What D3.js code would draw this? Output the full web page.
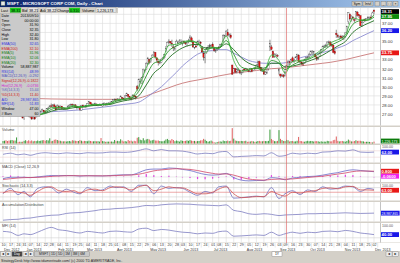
<!DOCTYPE html>
<html><head><meta charset="utf-8">
<script src="https://cdn.jsdelivr.net/npm/d3@7/dist/d3.min.js"></script>
<style>
html,body{margin:0;padding:0;background:#d4d0c8;overflow:hidden;width:400px;height:263px}
svg{display:block}
text{font-family:"Liberation Sans","DejaVu Sans",Arial,sans-serif}
</style></head><body>
<svg id="chart" width="400" height="263"></svg>
<script>
// ---------------- DATA ----------------
const opens=[26.78,27.00,27.35,27.20,26.95, 26.85,27.25,27.60,27.35,27.35, 27.20,27.05,26.90,26.70, 26.60,27.25,27.60,27.25,
26.75,26.70,26.70,26.65,26.70, 26.85,27.00,27.15,27.35,27.40, 27.25,27.20,27.55,27.60, 27.90,27.85,28.00,27.80,27.65,
27.85,27.60,27.85,27.60,27.65, 27.55,27.55,27.85,27.95,28.05, 28.00,28.00,27.80,27.75, 27.75,27.40,27.95,27.85,27.75,
27.90,28.15,28.30,28.10,28.00, 28.00,28.10,27.95,28.00,28.05, 27.85,28.10,28.10,28.05,28.20, 28.20,28.15,28.35,28.60,
28.60,28.55,28.55,28.55,28.80, 28.70,28.60,29.00,29.15,28.90, 28.75,28.70,29.05,28.95,30.00, 29.90,30.60,30.40,31.10,31.75,
31.90,32.50,33.00,32.80,33.25, 33.65,33.80,33.20,32.85,32.60, 32.70,33.10,33.20,33.90,34.50, 34.85,35.00,34.80,34.40,34.15,
34.60,34.90,35.05,34.85, 34.85,35.00,34.90,34.80,35.00, 35.10,35.40,34.95,34.30,34.50, 34.60,34.95,34.90,34.30,33.70,
33.20,33.80,34.30,34.40,34.50, 34.70,34.20,34.00,34.15, 34.35,34.40,34.70,35.05,35.60, 35.65,36.00,35.65,35.70,32.40,
31.60,32.00,31.65,31.90,31.80, 31.50,31.60,31.95,31.90,31.95, 31.80,31.75,32.00,31.80,32.05, 32.05,32.40,32.80,32.10,31.80,
31.75,31.40,31.60,32.00,34.40, 34.40,33.90,33.40,33.50,33.45, 31.75,31.40,31.25,31.30, 31.20,31.90,32.10,32.75,32.70,
33.20,32.80,32.90,33.30,33.50, 32.80,32.70,32.55,32.60,33.00, 33.10,33.30,33.60,33.80,33.85, 33.60,33.30,33.15,33.35,33.85,
34.00,34.40,34.35,34.50,34.85, 34.95,34.65,34.60,33.90,35.90, 35.65,35.50,35.60,35.50,35.35, 35.55,36.00,37.20,38.00,37.60,
37.70,37.40,37.40,38.25,37.95, 37.85,36.80,37.15,37.45,37.30, 37.60,37.60,37.70,37.80, 38.45];
const highs=[27.10,27.45,27.55,27.25,27.05, 27.20,27.75,27.65,27.75,27.50, 27.25,27.20,27.05,26.85, 26.85,27.75,27.65,27.35,
26.90,26.80,26.80,26.70,26.95, 27.10,27.25,27.40,27.60,27.45, 27.40,27.65,27.80,27.95, 28.15,28.10,28.15,27.95,28.05,
28.00,27.95,27.90,27.75,27.70, 27.70,27.95,28.10,28.15,28.15, 28.10,28.10,27.90,27.80, 27.90,28.00,28.05,27.95,28.00,
28.20,28.45,28.35,28.20,28.15, 28.25,28.15,28.10,28.15,28.15, 28.20,28.30,28.20,28.25,28.30, 28.35,28.40,28.65,28.70,
28.70,28.75,28.70,29.05,28.85, 28.80,29.10,29.35,29.20,28.95, 28.85,29.15,29.15,29.00,30.20, 30.90,30.95,31.10,32.00,31.95,
32.70,33.30,33.10,33.20,33.60, 33.95,33.85,33.25,32.90,32.90, 33.15,33.30,33.65,34.50,35.00, 35.25,35.05,35.20,34.70,34.45,
35.20,35.10,35.25,35.25, 35.10,35.15,35.00,35.10,35.30, 35.70,35.55,35.10,34.70,34.70, 35.10,35.20,35.05,34.50,33.90,
33.80,34.40,34.60,34.75,34.70, 34.90,34.40,34.20,34.25, 34.50,34.75,34.85,35.80,35.75, 36.25,36.40,35.90,35.90,32.45,
32.10,32.05,32.05,32.10,31.90, 31.65,31.90,32.05,32.10,32.00, 31.90,32.10,32.05,32.10,32.20, 32.50,32.90,32.90,32.15,31.95,
31.85,31.75,31.95,32.60,35.20, 34.60,34.00,33.70,33.70,33.60, 32.05,31.45,31.45,31.40, 31.80,32.40,32.95,32.90,33.10,
33.35,33.00,33.35,33.65,33.60, 32.95,32.80,32.70,33.10,33.30, 33.40,33.75,34.00,34.05,33.95, 33.70,33.35,33.30,33.80,34.15,
34.55,34.65,34.75,35.00,35.10, 35.05,34.85,34.65,34.15,36.30, 35.85,35.65,35.75,35.70,35.70, 36.00,36.75,38.25,38.10,37.90,
37.80,37.55,38.35,38.35,38.00, 37.90,37.20,37.50,37.55,37.60, 37.80,37.75,37.90,38.30, 38.55];
const lows=[26.70,26.95,27.10,26.85,26.70, 26.80,27.20,27.25,27.30,27.10, 27.00,26.80,26.70,26.55, 26.35,27.15,27.20,26.65,
26.55,26.35,26.40,26.35,26.60, 26.75,26.90,27.05,27.30,27.15, 27.10,27.15,27.45,27.55, 27.75,27.70,27.70,27.40,27.50,
27.55,27.55,27.50,27.45,27.45, 27.45,27.50,27.75,27.85,27.90, 27.80,27.80,27.50,27.60, 27.35,27.35,27.70,27.70,27.65,
27.85,28.10,28.05,27.90,27.90, 27.95,27.90,27.85,27.95,27.90, 27.80,28.00,27.95,27.95,28.10, 28.05,28.10,28.30,28.45,
28.40,28.45,28.40,28.50,28.55, 28.50,28.55,28.95,28.70,28.60, 28.50,28.70,28.80,28.60,29.50, 29.75,30.40,30.35,31.00,31.55,
31.85,32.45,32.50,32.65,33.20, 33.40,33.10,32.70,32.35,32.50, 32.65,32.95,33.10,33.85,34.40, 34.75,34.70,34.40,33.95,34.00,
34.55,34.70,34.80,34.75, 34.55,34.75,34.60,34.45,34.80, 35.00,34.90,34.30,34.15,34.30, 34.55,34.70,34.55,33.70,32.90,
32.60,33.65,34.15,34.25,34.35, 34.30,33.85,33.75,33.95, 34.10,34.30,34.50,35.00,35.35, 35.55,35.55,35.45,35.30,31.30,
31.50,31.55,31.50,31.70,31.40, 31.30,31.50,31.75,31.75,31.70, 31.60,31.60,31.60,31.75,31.85, 31.95,32.30,32.00,31.70,31.65,
31.35,31.30,31.40,31.80,33.95, 34.05,33.20,33.20,33.35,33.25, 31.35,31.00,31.10,31.00, 31.15,31.80,32.05,32.40,32.65,
32.70,32.60,32.85,33.20,32.75, 32.55,32.45,32.30,32.55,32.80, 32.95,33.20,33.50,33.55,33.60, 33.25,32.85,32.95,33.30,33.70,
33.95,34.30,34.30,34.40,34.75, 34.45,34.40,33.70,33.55,35.40, 35.40,35.20,35.25,35.25,35.15, 35.40,35.85,36.90,37.35,37.20,
37.40,37.10,37.30,37.75,37.60, 36.70,36.60,37.05,37.15,37.25, 37.40,37.40,37.50,37.80, 38.05];
const closes=[27.00,27.30,27.20,27.00,26.80, 27.10,27.65,27.30,27.70,27.45, 27.05,26.85,26.95,26.55, 26.70,27.60,27.25,26.75,
26.70,26.45,26.75,26.45,26.85, 27.00,27.15,27.30,27.50,27.25, 27.15,27.60,27.65,27.90, 27.85,28.00,27.80,27.45,27.90,
27.65,27.85,27.60,27.60,27.55, 27.55,27.85,27.95,28.05,28.00, 28.00,27.85,27.75,27.75, 27.50,27.95,27.80,27.80,27.95,
28.15,28.35,28.10,28.00,28.00, 28.15,27.95,28.00,28.05,28.00, 28.10,28.15,28.00,28.20,28.20, 28.15,28.35,28.60,28.60,
28.55,28.55,28.55,28.95,28.70, 28.60,29.00,29.30,28.95,28.80, 28.70,29.10,28.95,28.85,29.75, 30.80,30.60,31.00,31.95,31.80,
32.60,33.10,32.70,33.15,33.50, 33.75,33.30,32.95,32.65,32.70, 33.05,33.20,33.55,34.25,34.90, 35.05,34.85,34.75,34.30,34.25,
35.00,34.90,35.05,34.90, 35.00,34.95,34.75,34.95,35.05, 35.50,35.00,34.40,34.65,34.40, 35.00,34.95,34.80,33.85,33.25,
33.70,34.30,34.35,34.60,34.55, 34.35,34.00,34.00,34.20, 34.30,34.70,34.70,35.70,35.65, 36.15,35.70,35.75,35.45,31.40,
32.00,31.60,31.95,31.90,31.60, 31.55,31.85,31.85,32.00,31.90, 31.70,32.05,31.70,32.05,32.00, 32.35,32.75,32.05,31.80,31.80,
31.40,31.60,31.60,32.40,34.75, 34.15,33.25,33.55,33.50,33.40, 31.90,31.20,31.25,31.15, 31.65,32.35,32.75,32.70,33.00,
32.80,32.90,33.30,33.60,32.80, 32.75,32.50,32.50,33.00,33.25, 33.30,33.60,33.90,33.85,33.90, 33.30,33.05,33.15,33.75,34.10,
34.45,34.50,34.60,34.95,34.95, 34.60,34.60,33.80,33.70,35.75, 35.55,35.50,35.45,35.40,35.55, 35.95,36.65,38.20,37.50,37.80,
37.60,37.35,38.30,37.90,37.85, 36.75,37.10,37.35,37.30,37.55, 37.65,37.65,37.60,38.15, 38.31];
// volume, millions of shares
const volumes=[40,45,52,41,48, 52,57,48,48,98, 21,29,28,29, 43,53,38,52, 37,49,36,42,38, 48,40,45,52,54, 44,55,49,84,
36,42,60,65,56, 47,44,36,35,37, 32,37,41,34,53, 47,44,40,41, 54,45,35,42,39, 36,46,41,35,35, 38,35,38,31,88,
39,35,27,30,30, 30,32,28,56, 36,43,37,68,47, 33,38,32,56,42, 46,33,44,37,93, 103,61,53,85,50, 66,74,65,46,53,
60,48,47,48,40, 36,36,45,64,74, 55,48,72,56,37, 48,42,31,51, 43,40,43,50,43, 54,47,40,42,34, 39,41,50,52,75,
61,41,29,37,47, 34,21,14,25, 30,34,30,48,39, 39,47,39,44,248, 79,48,43,38,38, 41,38,39,44,28, 30,33,41,35,27,
30,40,42,35,36, 41,39,37,42,225, 73,53,38,36,42, 216,75,54,41, 39,59,52,33,39, 40,33,34,44,106, 40,38,31,29,37,
43,36,41,39,32, 37,38,35,28,35, 29,31,29,43,38, 34,35,54,60,113, 43,34,38,41,35, 29,41,63,48,34, 33,40,52,42,44,
44,37,34,26,28, 28,26,20,16, 30];

// weekly points (bar index of each week's first session)
const weekIdx=[0,5,10,14,18,23,28,32,37,42,47,51,56,61,66,71,75,80,85,90,95,100,105,110,115,119,124,129,134,139,143,148,153,158,163,168,173,178,183,187,192,197,202,207,212,217,222,227,232,237,242,246];
const dayLabels=["10","17","24","31","07","14","22","28","04","11","19","25","04","11","18","25","01","08","15","22","29","06","13","20","28","03","10","17","24","01","08","15","22","29","05","12","19","26","03","09","16","23","30","07","14","21","28","04","11","18","25","02"];
const monthLabels=["Dec 2012","Jan 2013","Feb 2013","Mar 2013","Apr 2013","May 2013","Jun 2013","Jul 2013","Aug 2013","Sep 2013","Oct 2013","Nov 2013","Dec 2013"];
const monthIdx=[0,15,36,55,75,97,119,139,161,183,203,226,246];
const priceTicks=[27,28,29,30,31,32,33,34,35,36,37];

const ema5=[27.0,27.1,27.3,26.9,27.0,26.8,27.3,27.7,27.75,27.6,27.95,27.7,27.95,28.05,28.05,28.15,28.55,28.65,28.85,30.0,32.1,33.3,32.9,34.6,34.7,34.95,35.1,34.8,33.8,34.4,34.25,35.6,32.9,31.75,31.85,32.15,31.7,33.5,32.9,31.5,32.8,32.9,33.1,33.6,34.2,34.85,35.2,35.7,37.6,37.4,37.4,37.95];
const ema10=[27.0,27.0,27.2,27.05,27.05,26.9,27.15,27.5,27.7,27.65,27.85,27.8,27.9,28.0,28.05,28.15,28.4,28.6,28.75,29.5,31.2,32.6,32.9,34.0,34.5,34.8,35.0,34.85,34.1,34.3,34.25,35.1,33.6,32.2,31.95,32.05,31.85,32.9,32.6,31.9,32.4,32.8,33.0,33.4,33.9,34.55,34.95,35.5,36.9,37.3,37.35,37.7];
const ema20=[27.1,27.05,27.15,27.1,27.05,26.95,27.05,27.3,27.5,27.55,27.7,27.75,27.85,27.95,28.0,28.05,28.25,28.45,28.6,29.0,30.2,31.5,32.2,33.2,33.9,34.3,34.6,34.7,34.3,34.3,34.3,34.75,34.1,33.2,32.6,32.3,32.05,32.6,32.6,32.2,32.3,32.5,32.8,33.1,33.5,34.0,34.5,35.0,36.0,36.6,37.0,37.3];
const ema50=[27.6,27.5,27.45,27.4,27.3,27.25,27.2,27.25,27.3,27.35,27.4,27.45,27.55,27.65,27.75,27.85,27.95,28.05,28.15,28.3,28.8,29.4,30.0,30.8,31.6,32.3,33.0,33.6,33.9,34.0,34.1,34.1,33.7,33.3,32.9,32.7,32.6,32.6,32.6,32.65,32.9,33.2,33.4,33.6,33.8,34.0,34.3,34.6,35.1,35.5,35.9,36.2];
const ema200=[28.80,28.78,28.76,28.74,28.72,28.70,28.68,28.66,28.65,28.64,28.63,28.62,28.62,28.62,28.62,28.62,28.63,28.64,28.66,28.75,29.0,29.3,29.6,29.9,30.2,30.4,30.6,30.75,30.9,31.05,31.2,31.35,31.5,31.6,31.7,31.8,31.9,32.0,32.05,32.1,32.2,32.3,32.4,32.5,32.6,32.7,32.85,33.0,33.2,33.4,33.6,33.75];
const rsi=[48,55,45,50,42,53,58,55,52,57,54,52,58,56,57,62,62,60,63,72,82,70,78,70,70,68,60,50,55,52,62,66,32,35,37,40,38,58,36,40,55,50,55,52,62,64,70,68,76,62,60,62];
const macd=[-0.25,-0.05,-0.05,-0.05,-0.1,0.0,0.12,0.2,0.18,0.2,0.18,0.12,0.18,0.15,0.14,0.2,0.25,0.3,0.3,0.6,1.0,1.1,1.1,1.25,1.2,1.05,0.9,0.6,0.35,0.25,0.3,0.5,-0.1,-0.45,-0.55,-0.5,-0.5,-0.1,-0.2,-0.4,-0.15,-0.05,0.05,0.1,0.25,0.45,0.6,0.85,1.0,0.9,0.8,0.74];
const signal=[-0.35,-0.25,-0.15,-0.1,-0.08,-0.06,0.0,0.08,0.13,0.17,0.18,0.16,0.16,0.16,0.15,0.16,0.2,0.24,0.27,0.38,0.6,0.85,0.98,1.08,1.15,1.12,1.05,0.9,0.68,0.5,0.4,0.42,0.25,-0.05,-0.3,-0.4,-0.45,-0.35,-0.3,-0.32,-0.28,-0.18,-0.08,0.02,0.1,0.25,0.4,0.55,0.75,0.83,0.82,0.80];
const hist=[0.10,0.20,0.10,0.05,-0.02,0.06,0.12,0.12,0.05,0.03,0.0,-0.04,0.02,-0.01,-0.01,0.04,0.05,0.06,0.03,0.22,0.40,0.25,0.12,0.17,0.05,-0.07,-0.15,-0.30,-0.33,-0.25,-0.10,0.08,-0.35,-0.40,-0.25,-0.10,-0.05,0.25,0.10,-0.08,0.13,0.13,0.13,0.08,0.15,0.20,0.20,0.30,0.25,0.07,-0.02,-0.06];
const stochK=[40,75,35,55,20,75,85,80,45,70,50,40,80,60,65,90,80,85,55,95,95,40,90,75,80,75,50,30,55,45,85,90,12,15,20,25,20,80,10,40,60,35,65,55,85,70,75,90,85,55,75,68];
const stochD=[45,60,50,45,30,55,80,85,60,55,60,45,65,70,60,80,85,80,65,85,95,60,70,85,78,78,60,40,40,50,70,85,40,15,18,22,22,55,35,25,50,45,55,60,75,78,72,85,88,65,65,63];
const accDist=[-440,-420,-410,-380,-370,-330,-300,-280,-270,-220,-200,-190,-160,-130,-90,-80,-60,-50,-30,0,40,30,60,80,90,85,80,60,50,40,30,60,-120,-160,-230,-250,-230,-250,-290,-270,-260,-250,-230,-230,-220,-220,-210,-200,-210,-220,-215,-210];
const mfi=[60,55,35,45,40,55,75,85,70,65,55,50,60,55,50,60,62,58,55,75,80,65,72,68,60,55,52,45,50,48,58,62,30,32,35,38,35,55,35,45,55,48,55,52,60,62,58,66,60,50,45,40];

const infoLabels=["Date","Time","Open","Close","High","Low","EMA(50)","EMA(200)","EMA(5)","EMA(10)","EMA(20)","Volume","RSI(14)","MACD(12,26,9)","Signal(12,26,9)","Hist(12,26,9)","%K(14,3,3)","%D(14,3,3)","A/D","MFI(14)","Window","# Bars"];
const infoValues=["2013/09/10","00:00:00","31.90","32.35","32.40","31.80","32.65","32.10","31.96","32.06","32.30","58,887,987","48.99","-0.292","-0.1822","-0.0736","15.44","11.40","28,987,865","51.83","47.00","60"];
const quoteLabels=["Last","Bid","Ask","Change","Volume"];
const quoteValues=["38.31","38.21","38.22","0.310","1,226,173"];
const crossIdx=188;

// ---------------- DRAW ----------------
const svg=d3.select("#chart");
const FONT='"Liberation Sans","DejaVu Sans",Arial,sans-serif';
svg.append("rect").attr("width",400).attr("height",263).attr("fill","#d4d0c8");

const x=d3.scaleLinear().domain([0,closes.length-1]).range([3,374]);
const P={main:[8,125.5],vol:[127,143.5],rsi:[145,162.5],macd:[164,182],stoch:[183.5,200.5],ad:[202,221.5],mfi:[223,242.5]};

Object.values(P).forEach(([t,b])=>{
  svg.append("rect").attr("x",0).attr("y",t).attr("width",400).attr("height",b-t).attr("fill","#fff");
  svg.append("g").selectAll("line").data(weekIdx).join("line")
    .attr("x1",d=>x(d)).attr("x2",d=>x(d)).attr("y1",t).attr("y2",b)
    .attr("stroke","#dcdcdc").attr("stroke-width",0.6);
  svg.append("line").attr("x1",380.5).attr("x2",380.5).attr("y1",t).attr("y2",b).attr("stroke","#9a9a9a").attr("stroke-width",0.6);
});

// ---- main price panel ----
const yP=d3.scaleLinear().domain([25.73,38.70]).range([P.main[1],P.main[0]]);
svg.append("g").selectAll("line").data(priceTicks.concat([38])).join("line")
  .attr("x1",0).attr("x2",380).attr("y1",d=>yP(d)).attr("y2",d=>yP(d))
  .attr("stroke","#dcdcdc").attr("stroke-width",0.6);

const lineW=(arr,ys)=>d3.line().x((d,i)=>x(weekIdx[i])).y(d=>ys(d)).curve(d3.curveMonotoneX)(arr);
svg.append("defs").append("clipPath").attr("id","mc").append("rect").attr("x",0).attr("y",P.main[0]).attr("width",380).attr("height",P.main[1]-P.main[0]);
const mg=svg.append("g").attr("clip-path","url(#mc)");
mg.append("path").attr("d",lineW(ema200,yP)).attr("fill","none").attr("stroke","#c87878").attr("stroke-width",0.9);
mg.append("path").attr("d",lineW(ema50,yP)).attr("fill","none").attr("stroke","#8c8cd0").attr("stroke-width",0.9);

const idx=d3.range(closes.length);
mg.append("g").selectAll("line").data(idx).join("line")
  .attr("x1",i=>x(i)).attr("x2",i=>x(i)).attr("y1",i=>yP(highs[i])).attr("y2",i=>yP(lows[i]))
  .attr("stroke","#222").attr("stroke-width",0.5);
mg.append("g").selectAll("rect").data(idx).join("rect")
  .attr("x",i=>x(i)-0.7).attr("width",1.4)
  .attr("y",i=>yP(Math.max(opens[i],closes[i])))
  .attr("height",i=>Math.max(0.6,Math.abs(yP(opens[i])-yP(closes[i]))))
  .attr("fill",i=>closes[i]>=opens[i]?"#ffffff":"#e41010")
  .attr("stroke",i=>closes[i]>=opens[i]?"#555":"#901010").attr("stroke-width",0.35);

mg.append("path").attr("d",lineW(ema20,yP)).attr("fill","none").attr("stroke","#1e6e1e").attr("stroke-width",0.9);
mg.append("path").attr("d",lineW(ema10,yP)).attr("fill","none").attr("stroke","#2a962a").attr("stroke-width",0.9);
mg.append("path").attr("d",lineW(ema5,yP)).attr("fill","none").attr("stroke","#36b236").attr("stroke-width",0.8);

// ---- right axis labels ----
function box(yc,txt,bg,fg,w,fs){
  svg.append("rect").attr("x",381).attr("y",yc-2.4).attr("width",w||18).attr("height",4.8).attr("fill",bg);
  svg.append("text").attr("x",381.6).attr("y",yc+1.5).attr("font-size",fs||4.2).attr("font-weight",fs?"normal":"bold")
    .attr("fill",fg).attr("font-family",FONT).text(txt);
}
const last=closes.length-1;
const bY=yP(closes[last]);
const gY=Math.max(yP(ema5[51]),bY+5);
const blY=yP(ema50[51]);
const rY=yP(ema200[51]);
const boxYs=[bY,gY,blY,rY];
const axisR=d3.axisRight(yP).tickValues(priceTicks.filter(v=>boxYs.every(b=>Math.abs(yP(v)-b)>4))).tickFormat(d=>d.toFixed(2)).tickSize(0);
const ag=svg.append("g").attr("transform","translate(382,0)").call(axisR);
ag.select(".domain").remove();
ag.selectAll("text").attr("font-size",4.2).attr("fill","#333").attr("x",0).attr("font-family",FONT);
box(bY,closes[last].toFixed(2),"#000","#fff");
box(gY,ema5[51].toFixed(2),"#0a8a0a","#fff");
box(blY,ema50[51].toFixed(2),"#1818e8","#fff");
box(rY,ema200[51].toFixed(2),"#e81818","#fff");

// ---- volume ----
const yV=d3.scaleLinear().domain([0,250]).range([P.vol[1],P.vol[0]+1]);
svg.append("g").selectAll("rect").data(idx).join("rect")
  .attr("x",i=>x(i)-0.5).attr("width",1)
  .attr("y",i=>yV(volumes[i])).attr("height",i=>P.vol[1]-yV(volumes[i]))
  .attr("fill",i=>closes[i]>=opens[i]?"#3a9a3a":"#e06060");
box(141,quoteValues[4],"#0a7a0a","#fff",18.6,3.6);

// ---- RSI ----
const yR=d3.scaleLinear().domain([0,100]).range([P.rsi[1]-0.5,P.rsi[0]+1]);
[30,70].forEach(v=>svg.append("line").attr("x1",0).attr("x2",380).attr("y1",yR(v)).attr("y2",yR(v)).attr("stroke","#e8c8c8").attr("stroke-width",0.5));
svg.append("path").attr("d",lineW(rsi,yR)).attr("fill","none").attr("stroke","#7c7cc0").attr("stroke-width",0.8);
box(yR(rsi[51]),rsi[51].toFixed(2),"#1818e8","#fff");

// ---- MACD ----
const yM=d3.scaleLinear().domain([-0.71,1.74]).range([P.macd[1],P.macd[0]+0.5]);
svg.append("line").attr("x1",0).attr("x2",380).attr("y1",yM(0)).attr("y2",yM(0)).attr("stroke","#d8d8d8").attr("stroke-width",0.5);
svg.append("g").selectAll("rect").data(hist).join("rect")
  .attr("x",(d,i)=>x(weekIdx[i])-0.6).attr("width",1.2)
  .attr("y",d=>Math.min(yM(d),yM(0))).attr("height",d=>Math.abs(yM(d)-yM(0)))
  .attr("fill","#e040e0");
svg.append("path").attr("d",lineW(macd,yM)).attr("fill","none").attr("stroke","#6a6ac8").attr("stroke-width",0.8);
svg.append("path").attr("d",lineW(signal,yM)).attr("fill","none").attr("stroke","#d04868").attr("stroke-width",0.8);
box(yM(signal[51]),signal[51].toFixed(3),"#e81818","#fff");
box(yM(signal[51])+5,hist[51].toFixed(4),"#f020f0","#fff");

// ---- Stochastic ----
const yS=d3.scaleLinear().domain([0,100]).range([P.stoch[1]-0.5,P.stoch[0]+1]);
[20,80].forEach(v=>svg.append("line").attr("x1",0).attr("x2",380).attr("y1",yS(v)).attr("y2",yS(v)).attr("stroke","#c8c8c8").attr("stroke-width",0.5));
svg.append("line").attr("x1",0).attr("x2",380).attr("y1",yS(50)).attr("y2",yS(50)).attr("stroke","#e07070").attr("stroke-width",0.6);
svg.append("path").attr("d",lineW(stochK,yS)).attr("fill","none").attr("stroke","#7070c0").attr("stroke-width",0.8);
svg.append("path").attr("d",lineW(stochD,yS)).attr("fill","none").attr("stroke","#d05050").attr("stroke-width",0.8);
box(yS(stochD[51]),stochD[51].toFixed(2),"#e81818","#fff");

// ---- Accumulation / Distribution ----
const yA=d3.scaleLinear().domain([-450,120]).range([P.ad[1]-1,P.ad[0]+1]);
svg.append("path").attr("d",lineW(accDist,yA)).attr("fill","none").attr("stroke","#7c7cc0").attr("stroke-width",0.8);
box(yA(accDist[51]),infoValues[18],"#1818e8","#fff",18.6,3.3);

// ---- MFI ----
const yF=d3.scaleLinear().domain([0,100]).range([P.mfi[1]-1.5,P.mfi[0]+2]);
svg.append("line").attr("x1",0).attr("x2",380).attr("y1",yF(20)).attr("y2",yF(20)).attr("stroke","#c8c8c8").attr("stroke-width",0.5);
svg.append("path").attr("d",lineW(mfi,yF)).attr("fill","none").attr("stroke","#7c7cc0").attr("stroke-width",0.8);
box(yF(mfi[51]),mfi[51].toFixed(2),"#1818e8","#fff");

[P.rsi[0]+3,P.stoch[0]+3,P.mfi[0]+3.5].forEach(yy=>svg.append("text").attr("x",382).attr("y",yy).attr("font-size",3.6).attr("fill","#555").attr("font-family",FONT).text("100.00"));

const titles=[["Volume",P.vol[0]],["RSI (14)",P.rsi[0]],["MACD (Close) 12,26,9",P.macd[0]],["Stochastic (14,3,3)",P.stoch[0]],["Accumulation/Distribution",P.ad[0]],["MFI (14)",P.mfi[0]]];
titles.forEach(([t,yy])=>svg.append("text").attr("x",2).attr("y",yy+3.8).attr("font-size",3.7).attr("fill","#444").attr("font-family",FONT).text(t));

// crosshair
svg.append("line").attr("x1",x(crossIdx)).attr("x2",x(crossIdx)).attr("y1",8).attr("y2",243).attr("stroke","#e07070").attr("stroke-width",0.7);

// ---- date axis ----
svg.append("rect").attr("x",0).attr("y",243).attr("width",400).attr("height",8).attr("fill","#fff");
svg.append("g").selectAll("line").data(weekIdx).join("line")
  .attr("x1",d=>x(d)+3.7).attr("x2",d=>x(d)+3.7).attr("y1",243).attr("y2",247.5).attr("stroke","#d0d0d0").attr("stroke-width",0.5);
const xa=d3.axisBottom(x).tickValues(weekIdx).tickFormat((d,i)=>dayLabels[i]).tickSize(0).tickPadding(0);
const xg=svg.append("g").attr("transform","translate(0,243.3)").call(xa);
xg.select(".domain").remove();
xg.selectAll("text").attr("font-size",3.6).attr("fill","#333").attr("font-family",FONT);
svg.append("g").selectAll("text").data(monthLabels).join("text")
  .attr("x",(d,i)=>x(monthIdx[i])+1).attr("y",250.6).attr("font-size",3.6).attr("fill","#333").attr("font-family",FONT).text(d=>d);

// ---- info panel ----
const infoColors=["#000","#000","#000","#000","#000","#000","#3030e0","#d02020","#108010","#108010","#108010","#000","#3030e0","#5050c0","#d02020","#d020d0","#6060c0","#d02020","#3030e0","#3030e0","#000","#000"];
svg.append("rect").attr("x",0).attr("y",13.2).attr("width",40).attr("height",103.5).attr("fill","#cacaca").attr("stroke","#9a9a9a").attr("stroke-width",0.5);
infoLabels.forEach((l,i)=>{
  const yy=17+i*4.65;
  svg.append("text").attr("x",1.5).attr("y",yy).attr("font-size",3.6).attr("fill",infoColors[i]).attr("font-family",FONT).text(l);
  svg.append("text").attr("x",38.5).attr("y",yy).attr("text-anchor","end").attr("font-size",3.6).attr("fill",infoColors[i]).attr("font-family",FONT).text(infoValues[i]);
});

// ---- title bar ----
const defs=svg.append("defs");
const gr=defs.append("linearGradient").attr("id","tb").attr("x1",0).attr("x2",1).attr("y1",0).attr("y2",0);
gr.append("stop").attr("offset",0).attr("stop-color","#0a246a");
gr.append("stop").attr("offset",1).attr("stop-color","#a6caf0");
svg.append("rect").attr("x",0).attr("y",0).attr("width",400).attr("height",7.3).attr("fill","url(#tb)");
svg.append("rect").attr("x",1).attr("y",1.3).attr("width",4).attr("height",4.2).attr("fill","#e8e8e8").attr("stroke","#406040").attr("stroke-width",0.4);
svg.append("text").attr("x",7).attr("y",5.4).attr("font-size",4.4).attr("font-weight","bold").attr("fill","#fff").attr("font-family",FONT).text("MSFT - MICROSOFT CORP COM, Daily - Chart");
[["Sym",352,10],["Intvl",363,10],["",375,4.5],["_",381,5],["□",387,5],["×",393,5]].forEach(([t,bx,bw])=>{
  svg.append("rect").attr("x",bx).attr("y",1.3).attr("width",bw).attr("height",4.7).attr("fill","#d4d0c8").attr("stroke","#707070").attr("stroke-width",0.4);
  svg.append("text").attr("x",bx+bw/2).attr("y",5).attr("text-anchor","middle").attr("font-size",3.5).attr("fill","#000").attr("font-family",FONT).text(t);
});

// ---- quote bar ----
svg.append("rect").attr("x",0).attr("y",7.3).attr("width",118).attr("height",5.9).attr("fill","#d4d0c8");
const qx=[[1,10,11],[22,28,10],[40,46,10],[57,69,11],[82,96,20]];
quoteLabels.forEach((l,i)=>{
  const [lx,vx,vw]=qx[i];
  svg.append("text").attr("x",lx).attr("y",11.9).attr("font-size",3.7).attr("fill","#000").attr("font-family",FONT).text(l);
  const green=(i===0||i===3);
  svg.append("rect").attr("x",vx).attr("y",7.8).attr("width",vw).attr("height",4.9).attr("fill",green?"#18d018":"#e6e6e6").attr("stroke","#8a8a8a").attr("stroke-width",0.3);
  svg.append("text").attr("x",vx+1).attr("y",11.9).attr("font-size",3.7).attr("fill","#000").attr("font-family",FONT).text(quoteValues[i]);
});

// ---- bottom toolbar ----
svg.append("rect").attr("x",0).attr("y",251).attr("width",400).attr("height",6).attr("fill","#d4d0c8");
const btns=[["◄",0.5,5,"#ececec","#000"],["►",6,5,"#ececec","#000"],["Day",12,10,"#404040","#fff"],["◄",23,5,"#ececec","#000"],["►",28.5,5,"#ececec","#000"],
  ["MSFT | 1D | 5D | 1M | 3M | 6M",34.5,55,"#c8c8c8","#222"],["1Y",272,10,"#ffffff","#000"],["◄",386,6,"#ececec","#000"],["►",392.5,6,"#ececec","#000"]];
btns.forEach(([t,bx,bw,bg,fg])=>{
  svg.append("rect").attr("x",bx).attr("y",251.8).attr("width",bw).attr("height",4.6).attr("fill",bg).attr("stroke","#808080").attr("stroke-width",0.4);
  svg.append("text").attr("x",bx+bw/2).attr("y",255.3).attr("text-anchor","middle").attr("font-size",3.4).attr("fill",fg).attr("font-family",FONT).text(t);
});
svg.append("text").attr("x",1).attr("y",261.6).attr("font-size",3.6).attr("fill","#222").attr("font-family",FONT).text("StrategyDesk  http://www.tdameritrade.com/ (c) 2000 TD AMERITRADE, Inc.");
</script>
</body></html>
